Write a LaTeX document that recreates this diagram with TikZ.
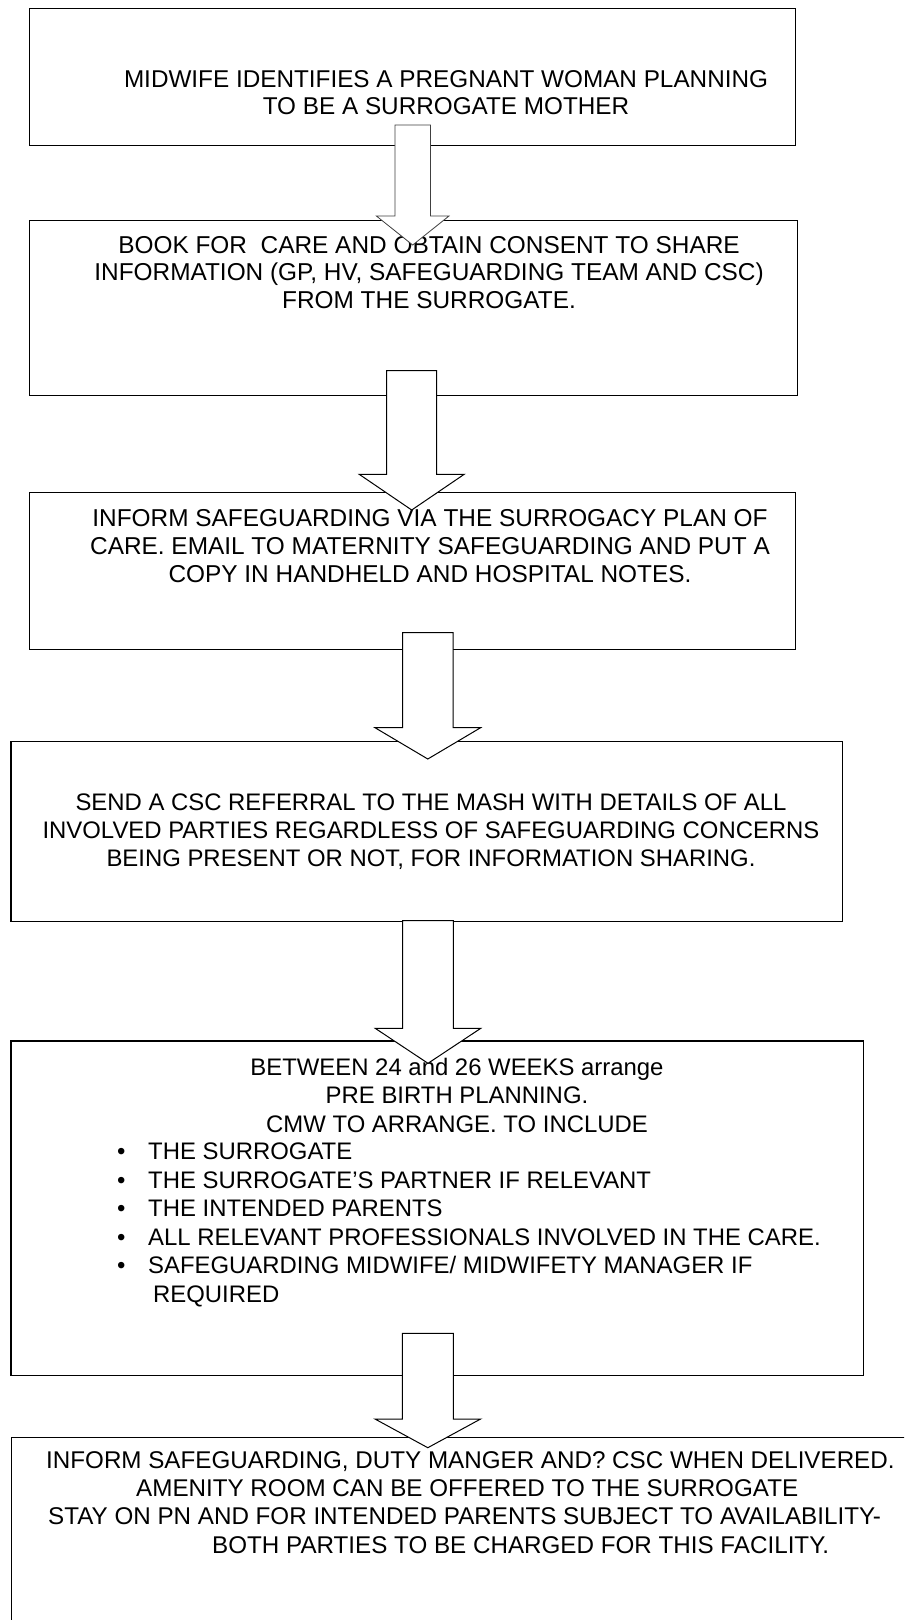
\documentclass[tikz,border=0pt]{standalone}
\usepackage{fontspec}
\setmainfont{Liberation Sans}
\begin{document}
\begin{tikzpicture}[x=1bp,y=-1bp,
  box/.style={draw=black,line width=1.3bp,inner sep=0pt,anchor=north west},
  txt/.style={font=\fontsize{24.4bp}{27.7bp}\selectfont,align=center,inner sep=0pt,anchor=base},
  blk/.style={draw=black,line width=1bp,fill=white,line join=miter},
  blkthin/.style={draw=black!75,line width=0.8bp,fill=white,line join=miter}]
\useasboundingbox (0,0) rectangle (904,1620);
\clip (0,0) rectangle (904,1620);
\fill[white] (0,0) rectangle (904,1620);
% boxes
\node[box,minimum width=765.5bp,minimum height=137bp] (b1) at (29,8) {};
\node[box,minimum width=767.5bp,minimum height=174.6bp] (b2) at (29,220) {};
\node[box,minimum width=765.5bp,minimum height=157bp] (b3) at (29,492) {};
\node[box,minimum width=831.7bp,minimum height=179.8bp] (b4) at (10.3,740.7) {};
\node[box,minimum width=852.3bp,minimum height=334.7bp] (b5) at (10.3,1040.3) {};
\node[box,minimum width=960bp,minimum height=300bp] (b6) at (10.8,1437) {};
% texts (anchor=base is the baseline of the last line)
\node[txt,font=\fontsize{24.3bp}{27bp}\selectfont] (t1) at (446,114)
  {MIDWIFE IDENTIFIES A PREGNANT WOMAN PLANNING\\TO BE A SURROGATE MOTHER};
\node[txt,font=\fontsize{24.4bp}{27.5bp}\selectfont] (t2) at (429,308.2)
  {BOOK FOR\ \ CARE AND OBTAIN CONSENT TO SHARE\\INFORMATION (GP, HV, SAFEGUARDING TEAM AND CSC)\\FROM THE SURROGATE.};
\node[txt] (t3) at (430,582.1)
  {INFORM SAFEGUARDING VIA THE SURROGACY PLAN OF\\CARE. EMAIL TO MATERNITY SAFEGUARDING AND PUT A\\COPY IN HANDHELD AND HOSPITAL NOTES.};
\node[txt,font=\fontsize{23.9bp}{27.7bp}\selectfont] (t4) at (431,866.3)
  {SEND A CSC REFERRAL TO THE MASH WITH DETAILS OF ALL\\INVOLVED PARTIES REGARDLESS OF SAFEGUARDING CONCERNS\\BEING PRESENT OR NOT, FOR INFORMATION SHARING.};
\node[txt,font=\fontsize{23.9bp}{28.8bp}\selectfont] (t5) at (457,1132.6)
  {BETWEEN 24 and 26 WEEKS arrange\\PRE BIRTH PLANNING.\\CMW TO ARRANGE. TO INCLUDE};
\node[txt,font=\fontsize{23.9bp}{28.5bp}\selectfont,align=left,anchor=base west] (t5b) at (117,1302.4)
  {\makebox[31bp][l]{\textbullet}THE SURROGATE\\
   \makebox[31bp][l]{\textbullet}THE SURROGATE’S PARTNER IF RELEVANT\\
   \makebox[31bp][l]{\textbullet}THE INTENDED PARENTS\\
   \makebox[31bp][l]{\textbullet}ALL RELEVANT PROFESSIONALS INVOLVED IN THE CARE.\\
   \makebox[31bp][l]{\textbullet}SAFEGUARDING MIDWIFE/ MIDWIFETY MANAGER IF\\
   \makebox[36bp][l]{}REQUIRED};
\node[txt,font=\fontsize{24.2bp}{28.2bp}\selectfont,align=left,anchor=base west] (t6) at (46,1553)
  {INFORM SAFEGUARDING, DUTY MANGER AND? CSC WHEN DELIVERED.\\
   \hspace*{90bp}AMENITY ROOM CAN BE OFFERED TO THE SURROGATE\\
   \hspace*{2bp}STAY ON PN AND FOR INTENDED PARENTS SUBJECT TO AVAILABILITY-\\
   \hspace*{166bp}BOTH PARTIES TO BE CHARGED FOR THIS FACILITY.};
% block arrows
\draw[blkthin] (412.7-17.8,125) -- (412.7+17.8,125) -- (412.7+17.8,216) -- (412.7+36.3,216)
  -- (412.7,245) -- (412.7-36.3,216) -- (412.7-17.8,216) -- cycle;
\draw[blk] (411.7-25,370.7) -- (411.7+25,370.7) -- (411.7+25,474.3) -- (411.7+52.5,474.3)
  -- (411.7,510) -- (411.7-52.5,474.3) -- (411.7-25,474.3) -- cycle;
\draw[blk] (427.8-25.3,632.7) -- (427.8+25.3,632.7) -- (427.8+25.3,727.7) -- (427.8+52.8,727.7)
  -- (427.8,759) -- (427.8-52.8,727.7) -- (427.8-25.3,727.7) -- cycle;
\draw[blk] (428-25.3,920.5) -- (428+25.3,920.5) -- (428+25.3,1028.3) -- (428+52.8,1028.3)
  -- (428,1063.3) -- (428-52.8,1028.3) -- (428-25.3,1028.3) -- cycle;
\draw[blk] (427.8-25.5,1333.3) -- (427.8+25.5,1333.3) -- (427.8+25.5,1419) -- (427.8+52.8,1419)
  -- (427.8,1447.7) -- (427.8-52.8,1419) -- (427.8-25.5,1419) -- cycle;
\end{tikzpicture}
\end{document}
